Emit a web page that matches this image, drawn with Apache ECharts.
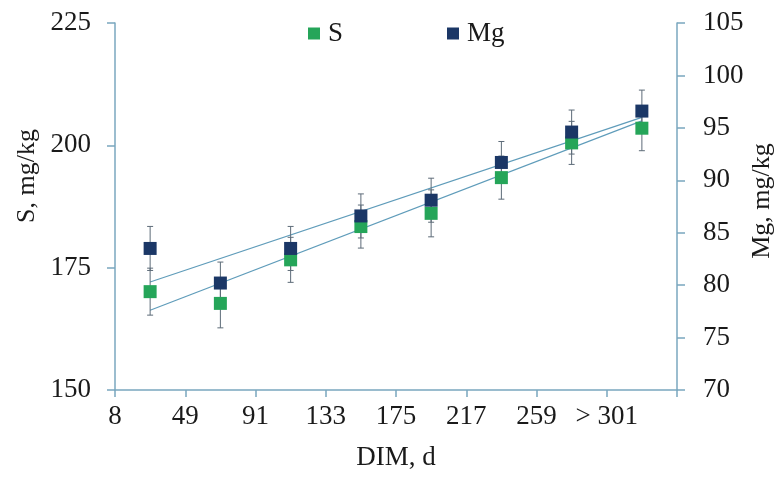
<!DOCTYPE html>
<html>
<head>
<meta charset="utf-8">
<script src="https://cdn.jsdelivr.net/npm/echarts@6/dist/echarts.min.js"></script>
<style>
  html, body { margin: 0; padding: 0; background: #ffffff; }
  #chart { width: 784px; height: 477px; }
</style>
</head>
<body>
<div id="chart"></div>
<script>
// Days-in-milk bin boundaries (labels sit on the bin edges)
const dimTicks = ['8', '49', '91', '133', '175', '217', '259', '> 301', ''];

// Mean S and Mg concentration per DIM bin, with error bar half-widths
const sValues  = [170.1, 167.7, 176.6, 183.4, 186.1, 193.4, 200.5, 203.5];
const sErr     = [4.8, 5.0, 4.6, 4.4, 4.8, 4.4, 4.4, 4.6];
const mgValues = [83.5, 80.2, 83.5, 86.6, 88.1, 91.7, 94.6, 96.6];
const mgErr    = [2.1, 2.0, 2.1, 2.1, 2.1, 2.0, 2.1, 2.0];

// Linear trend end values (first and last bin)
const sTrend  = [166.3, 205.0];
const mgTrend = [80.3, 96.0];

const FONT = "'Liberation Serif', 'Times New Roman', serif";
const AXIS_COLOR = '#7aa7bf';
const TREND_COLOR = '#5f9cba';
const ERR_COLOR = '#5d6b78';
const S_COLOR = '#25a559';
const MG_COLOR = '#1b3766';

// each bin's point sits in the middle of its interval
const binX = i => i + 0.5;
const lastX = binX(sValues.length - 1);

const pts = (vals) => vals.map((v, i) => [binX(i), v]);
const errPts = (vals, errs) => vals.map((v, i) => [binX(i), v, errs[i]]);

function renderErr(params, api) {
  const x = api.value(0), v = api.value(1), e = api.value(2);
  const top = api.coord([x, v + e]);
  const bot = api.coord([x, v - e]);
  const w = 3;
  const style = { stroke: ERR_COLOR, lineWidth: 1 };
  return {
    type: 'group',
    children: [
      { type: 'line', shape: { x1: top[0], y1: top[1], x2: bot[0], y2: bot[1] }, style },
      { type: 'line', shape: { x1: top[0] - w, y1: top[1], x2: top[0] + w, y2: top[1] }, style },
      { type: 'line', shape: { x1: bot[0] - w, y1: bot[1], x2: bot[0] + w, y2: bot[1] }, style }
    ]
  };
}

const chart = echarts.init(document.getElementById('chart'), null, { renderer: 'canvas' });

const labelStyle = { color: '#1a1a1a', fontFamily: FONT, fontSize: 27 };

chart.setOption({
  animation: false,
  backgroundColor: '#ffffff',
  grid: { left: 115, right: 107, top: 23, bottom: 87 },
  legend: {
    data: ['S', 'Mg'],
    left: 303,
    top: 15,
    icon: 'rect',
    itemWidth: 12,
    itemHeight: 12,
    itemGap: 104,
    itemStyle: { opacity: 1 },
    textStyle: { color: '#1a1a1a', fontFamily: FONT, fontSize: 27, padding: [0, 0, 0, 3] }
  },
  xAxis: {
    type: 'value',
    min: 0,
    max: 8,
    interval: 1,
    splitLine: { show: false },
    axisLine: { show: true, lineStyle: { color: AXIS_COLOR, width: 1.5 } },
    axisTick: { show: true, length: 7, lineStyle: { color: AXIS_COLOR, width: 1.5 } },
    axisLabel: Object.assign({ margin: 13, formatter: v => dimTicks[Math.round(v)] }, labelStyle)
  },
  yAxis: [
    {
      type: 'value',
      min: 150,
      max: 225,
      interval: 25,
      position: 'left',
      splitLine: { show: false },
      axisLine: { show: true, lineStyle: { color: AXIS_COLOR, width: 1.5 } },
      axisTick: { show: true, length: 8, lineStyle: { color: AXIS_COLOR, width: 1.5 } },
      axisLabel: Object.assign({ margin: 24 }, labelStyle)
    },
    {
      type: 'value',
      min: 70,
      max: 105,
      interval: 5,
      position: 'right',
      splitLine: { show: false },
      axisLine: { show: true, lineStyle: { color: AXIS_COLOR, width: 1.5 } },
      axisTick: { show: true, length: 8, lineStyle: { color: AXIS_COLOR, width: 1.5 } },
      axisLabel: Object.assign({ margin: 26 }, labelStyle)
    }
  ],
  graphic: [
    {
      type: 'text', x: 396, y: 458,
      style: { text: 'DIM, d', font: '27px ' + FONT, fill: '#1a1a1a', textAlign: 'center', textVerticalAlign: 'middle' }
    },
    {
      type: 'text', x: 27, y: 176, rotation: Math.PI / 2,
      style: { text: 'S, mg/kg', font: '26px ' + FONT, fill: '#1a1a1a', textAlign: 'center', textVerticalAlign: 'middle' }
    },
    {
      type: 'text', x: 762, y: 201, rotation: Math.PI / 2,
      style: { text: 'Mg, mg/kg', font: '26px ' + FONT, fill: '#1a1a1a', textAlign: 'center', textVerticalAlign: 'middle' }
    }
  ],
  series: [
    {
      name: 'S trend', type: 'line', yAxisIndex: 0, z: 2,
      data: [[binX(0), sTrend[0]], [lastX, sTrend[1]]],
      symbol: 'none', silent: true,
      lineStyle: { color: TREND_COLOR, width: 1.2 }
    },
    {
      name: 'Mg trend', type: 'line', yAxisIndex: 1, z: 2,
      data: [[binX(0), mgTrend[0]], [lastX, mgTrend[1]]],
      symbol: 'none', silent: true,
      lineStyle: { color: TREND_COLOR, width: 1.2 }
    },
    {
      name: 'S err', type: 'custom', yAxisIndex: 0, z: 3,
      renderItem: renderErr, encode: { x: 0, y: 1 },
      data: errPts(sValues, sErr)
    },
    {
      name: 'Mg err', type: 'custom', yAxisIndex: 1, z: 3,
      renderItem: renderErr, encode: { x: 0, y: 1 },
      data: errPts(mgValues, mgErr)
    },
    {
      name: 'S', type: 'scatter', yAxisIndex: 0, z: 4,
      symbol: 'rect', symbolSize: 13,
      itemStyle: { color: S_COLOR, opacity: 1 },
      data: pts(sValues)
    },
    {
      name: 'Mg', type: 'scatter', yAxisIndex: 1, z: 5,
      symbol: 'rect', symbolSize: 13,
      itemStyle: { color: MG_COLOR, opacity: 1 },
      data: pts(mgValues)
    }
  ]
});
</script>
</body>
</html>
